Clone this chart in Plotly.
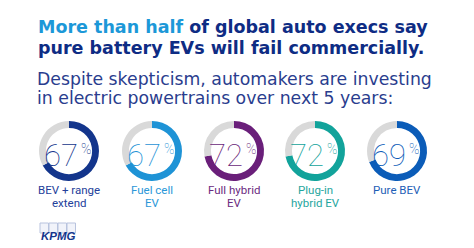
import plotly.graph_objects as go

W, H = 474, 248

categories = ["BEV + range<br>extend", "Fuel cell<br>EV", "Full hybrid<br>EV", "Plug-in<br>hybrid EV", "Pure BEV"]
values = [67, 67, 72, 72, 69]
colors = ["#13358C", "#1E93D6", "#6A1F7A", "#12A39B", "#0B5CB8"]
label_colors = ["#23409A", "#2A97D8", "#6B2A80", "#1FA69E", "#1D5EB6"]
gray = "#D9D9D9"

title_lines = ["<b><span style='color:#1C98D8'>More than half</span> of global auto execs say</b>",
               "<b>pure battery EVs will fail commercially.</b>"]
subtitle_lines = ["Despite skepticism, automakers are investing",
                  "in electric powertrains over next 5 years:"]

centers_x = [69, 152, 234, 315, 397]
cy = 151
R = 30


def px(x):
    return x / W


def py(y):
    return 1 - y / H


fig = go.Figure()
ann = []
for i, (cat, v, c) in enumerate(zip(categories, values, colors)):
    cx = centers_x[i]
    fig.add_trace(go.Pie(
        values=[v, 100 - v], sort=False, direction="clockwise", rotation=0,
        hole=0.77, marker=dict(colors=[c, gray], line=dict(width=0)),
        textinfo="none", hoverinfo="skip", showlegend=False,
        domain=dict(x=[px(cx - R), px(cx + R)], y=[py(cy + R), py(cy - R)]),
    ))
    ann.append(dict(x=px(cx + 11), y=py(155), xref="paper", yref="paper",
                    text=f"{v}", showarrow=False, xanchor="right", yanchor="middle",
                    font=dict(family="Roboto, sans-serif", size=31, color=c, weight=100)))
    ann.append(dict(x=px(cx + 10), y=py(149), xref="paper", yref="paper",
                    text="%", showarrow=False, xanchor="left", yanchor="middle",
                    font=dict(family="Roboto, sans-serif", size=14, color=c, weight=100)))
    for j, line in enumerate(cat.split("<br>")):
        ann.append(dict(x=px(cx), y=py(189.5 + 13.5 * j), xref="paper", yref="paper",
                        text=line, showarrow=False, xanchor="center", yanchor="middle",
                        borderpad=0,
                        font=dict(family="Roboto, sans-serif", size=11.5,
                                  color=label_colors[i], weight=400)))

for j, line in enumerate(title_lines):
    ann.append(dict(x=px(36), y=py(27 + 20.5 * j), xref="paper", yref="paper", text=line,
                    showarrow=False, xanchor="left", yanchor="middle",
                    font=dict(family="DejaVu Sans, sans-serif", size=17.5, color="#0E2C84")))
for j, line in enumerate(subtitle_lines):
    ann.append(dict(x=px(36), y=py(78.5 + 19.5 * j), xref="paper", yref="paper", text=line,
                    showarrow=False, xanchor="left", yanchor="middle", borderpad=0,
                    font=dict(family="DejaVu Sans, sans-serif", size=17.3, color="#2A3D8E")))
ann.append(dict(x=px(39), y=py(236), xref="paper", yref="paper", text="<b><i>KPMG</i></b>",
                showarrow=False, xanchor="left", yanchor="middle",
                font=dict(family="Liberation Sans, Arial, sans-serif", size=11.5, color="#13358C")))

shapes = []
for k in range(4):
    x0 = 40 + k * 9
    shapes.append(dict(type="rect", xref="paper", yref="paper",
                       x0=px(x0), x1=px(x0 + 8.5), y0=py(233), y1=py(223),
                       line=dict(color="#B8C3DE", width=1), fillcolor="#F1F3FA", layer="below"))

fig.update_layout(width=W, height=H, margin=dict(l=0, r=0, t=0, b=0),
                  paper_bgcolor="white", plot_bgcolor="white",
                  annotations=ann, shapes=shapes)
fig.write_html("out.html")
